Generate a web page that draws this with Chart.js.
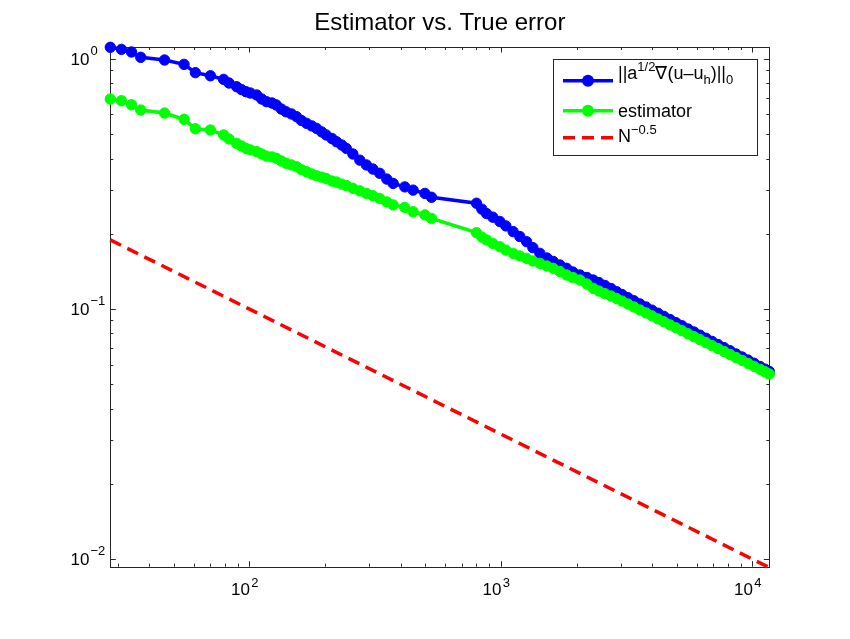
<!DOCTYPE html>
<html><head><meta charset="utf-8">
<script src="https://cdn.jsdelivr.net/npm/chart.js@4.4.0/dist/chart.umd.min.js"></script>
<style>html,body{margin:0;padding:0;background:#fff;}#wrap{width:850px;height:639px;position:relative;}</style>
</head><body><div id="wrap"><canvas id="c"></canvas></div>
<script>
// ---- data ----
const N = [28,31,34,37,46,55,61,70,79,
  83,89,93,97,101,107,112,117,123,128,134,140,147,154,161,169,177,185,194,202,213,222,233,243,258,275,292,310,330,352,373,415,448,499,530,
  800,840,877,929,991,1047,1119,1190,1266,1341,1430,1525,1615,1717,1826,1934,2063,2199,2330,2455,2593,2740,2886,3030,3202,3382,3574,3776,3990,4216,4453,4705,4971,5253,5548,5862,6194,6544,6913,7304,7717,8154,8612,9100,9614,10157,10730,11233,11680];
const errTrue = [1.114,1.093,1.067,1.016,0.991,0.952,0.882,0.857,0.829,
  0.802,0.775,0.755,0.740,0.731,0.718,0.692,0.675,0.667,0.655,0.631,0.615,0.603,0.588,0.568,0.553,0.540,0.528,0.511,0.497,0.481,0.467,0.453,0.439,0.417,0.394,0.377,0.363,0.349,0.331,0.318,0.308,0.299,0.290,0.280,
  0.265,0.251,0.241,0.233,0.224,0.215,0.204,0.195,0.186,0.176,0.167,0.160,0.155,0.150,0.1455,0.1406,0.1368,0.1337,0.1306,0.1276,0.1242,0.1208,0.1173,0.1143,0.1110,0.1079,0.1048,0.1019,0.0990,0.0962,0.0934,0.0908,0.0882,0.0857,0.0832,0.0809,0.0786,0.0764,0.0742,0.0721,0.0701,0.0681,0.0661,0.0643,0.0625,0.0607,0.0589,0.0575,0.0563];
const errEst = [0.692,0.681,0.656,0.625,0.608,0.574,0.526,0.520,0.497,
  0.479,0.460,0.449,0.439,0.433,0.426,0.417,0.409,0.406,0.401,0.391,0.383,0.377,0.371,0.361,0.354,0.347,0.341,0.337,0.333,0.325,0.322,0.316,0.312,0.304,0.297,0.290,0.284,0.277,0.268,0.261,0.255,0.245,0.238,0.2305,
  0.202,0.194,0.189,0.183,0.1775,0.172,0.167,0.163,0.1595,0.1556,0.1523,0.1486,0.1455,0.1413,0.1368,0.1337,0.1306,0.1259,0.1210,0.1180,0.1153,0.1127,0.1102,0.1076,0.1047,0.1019,0.0991,0.0965,0.0939,0.0913,0.0889,0.0864,0.0841,0.0819,0.0796,0.0775,0.0754,0.0734,0.0714,0.0695,0.0676,0.0658,0.0640,0.0623,0.0606,0.0590,0.0574,0.0561,0.0550];
const refN = [28, 11680];
const refVal = [0.189, 0.00925];
const xTickExps = [2, 3, 4];
const yTickExps = [0, -1, -2];
const xLimits = [28, 11680];
const yLimits = [0.00932, 1.117];
const titleText = 'Estimator vs. True error';
const legendRich = [
  [{t:'||a',s:18},{t:'1/2',s:13,dy:-8},{t:'\u2207(u\u2013u',s:18},{t:'h',s:13,dy:5},{t:')||',s:18},{t:'0',s:13,dy:5}],
  [{t:'estimator',s:18}],
  [{t:'N',s:18},{t:'\u22120.5',s:13,dy:-8}]
];
const seriesNames = ['||a1/2\u2207(u\u2013uh)||0', 'estimator', 'N\u22120.5'];
const seriesColors = ['#0000ff', '#00ff00', '#ff0000'];

const FONT = '"Liberation Sans", Arial, Helvetica, sans-serif';

function drawRich(ctx, x, y, segs) {
  let cx = x;
  for (const s of segs) {
    ctx.font = s.s + 'px ' + FONT;
    ctx.fillText(s.t, cx, y + (s.dy || 0));
    cx += ctx.measureText(s.t).width;
  }
}

const matlabAxes = {
  id: 'matlabAxes',
  beforeDatasetsDraw(chart) {
    const {ctx, chartArea: a, scales: {x, y}} = chart;
    ctx.save();
    ctx.strokeStyle = '#262626';
    ctx.lineWidth = 1;
    const ticks = (scale, horiz) => {
      const lo = Math.floor(Math.log10(scale.min)), hi = Math.ceil(Math.log10(scale.max));
      for (let d = lo; d <= hi; d++) for (let m = 1; m <= 9; m++) {
        const v = m * Math.pow(10, d);
        if (v < scale.min * 0.9999 || v > scale.max * 1.0001) continue;
        const p = Math.round(scale.getPixelForValue(v)) + 0.5;
        const L = m === 1 ? 5.5 : 3;
        ctx.beginPath();
        if (horiz) {
          ctx.moveTo(p, a.bottom); ctx.lineTo(p, a.bottom - L);
          ctx.moveTo(p, a.top); ctx.lineTo(p, a.top + L);
        } else {
          ctx.moveTo(a.left, p); ctx.lineTo(a.left + L, p);
          ctx.moveTo(a.right, p); ctx.lineTo(a.right - L, p);
        }
        ctx.stroke();
      }
    };
    ticks(x, true);
    ticks(y, false);
    ctx.strokeRect(Math.round(a.left) + 0.5, Math.round(a.top) + 0.5, Math.round(a.right - a.left), Math.round(a.bottom - a.top));
    ctx.restore();
  },
  afterDraw(chart) {
    const {ctx, chartArea: a, scales: {x, y}} = chart;
    ctx.save();
    ctx.fillStyle = '#000';
    ctx.textBaseline = 'alphabetic';
    // x tick labels
    for (const e of xTickExps) {
      const p = x.getPixelForValue(Math.pow(10, e));
      ctx.font = '17px ' + FONT; ctx.textAlign = 'right';
      ctx.fillText('10', p + 0.5, a.bottom + 28.5);
      ctx.font = '13px ' + FONT; ctx.textAlign = 'left';
      ctx.fillText(String(e), p + 2, a.bottom + 20);
    }
    // y tick labels
    for (const e of yTickExps) {
      const p = y.getPixelForValue(Math.pow(10, e));
      ctx.font = '17px ' + FONT; ctx.textAlign = 'right';
      ctx.fillText('10', 89.5, p + 6);
      ctx.font = '13px ' + FONT; ctx.textAlign = 'left';
      ctx.fillText(e < 0 ? '\u2212' + (-e) : String(e), 90.5, p - 4);
    }
    // title
    ctx.font = '24px ' + FONT; ctx.textAlign = 'center';
    ctx.fillText(titleText, (a.left + a.right) / 2, 30);
    // legend
    const bx = 553.5, by = 59.5, bw = 204, bh = 96;
    ctx.fillStyle = '#fff';
    ctx.fillRect(bx, by, bw, bh);
    ctx.strokeStyle = '#262626'; ctx.lineWidth = 1;
    ctx.strokeRect(bx, by, bw, bh);
    const rowsY = [80.7, 110.7, 137.7];
    const baseY = [79, 117, 142];
    ctx.textAlign = 'left';
    for (let i = 0; i < 3; i++) {
      ctx.strokeStyle = seriesColors[i];
      ctx.lineWidth = 3.5;
      ctx.setLineDash(i === 2 ? [12, 7] : []);
      ctx.beginPath(); ctx.moveTo(563, rowsY[i]); ctx.lineTo(613, rowsY[i]); ctx.stroke();
      ctx.setLineDash([]);
      if (i < 2) {
        ctx.fillStyle = seriesColors[i];
        ctx.beginPath(); ctx.arc(588, rowsY[i], 6, 0, Math.PI * 2); ctx.fill();
      }
      ctx.fillStyle = '#000';
      drawRich(ctx, 618, baseY[i], legendRich[i]);
    }
    ctx.restore();
  }
};

const pts = (xs, ys) => xs.map((v, i) => ({x: v, y: ys[i]}));

new Chart(document.getElementById('c'), {
  type: 'line',
  data: {
    datasets: [
      {label: seriesNames[0], data: pts(N, errTrue), borderColor: seriesColors[0], backgroundColor: seriesColors[0],
       borderWidth: 3.5, pointRadius: 5.2, pointBorderWidth: 1, pointBackgroundColor: seriesColors[0], pointBorderColor: seriesColors[0],
       tension: 0, clip: false, order: 2},
      {label: seriesNames[1], data: pts(N, errEst), borderColor: seriesColors[1], backgroundColor: seriesColors[1],
       borderWidth: 3.5, pointRadius: 5.2, pointBorderWidth: 1, pointBackgroundColor: seriesColors[1], pointBorderColor: seriesColors[1],
       tension: 0, clip: false, order: 1},
      {label: seriesNames[2], data: pts(refN, refVal), borderColor: seriesColors[2], backgroundColor: seriesColors[2],
       borderWidth: 3.5, borderDash: [12, 7], pointRadius: 0, tension: 0, clip: false, order: 0}
    ]
  },
  options: {
    responsive: true, maintainAspectRatio: false, animation: false,
    layout: {padding: {top: 47, right: 80.7, left: 0, bottom: 0}},
    plugins: {legend: {display: false}, tooltip: {enabled: false}, title: {display: false}},
    events: [],
    scales: {
      x: {type: 'logarithmic', min: xLimits[0], max: xLimits[1],
          ticks: {display: false}, grid: {display: false}, border: {display: false},
          afterFit: s => { s.height = 639 - 566.7; }},
      y: {type: 'logarithmic', min: yLimits[0], max: yLimits[1],
          ticks: {display: false}, grid: {display: false}, border: {display: false},
          afterFit: s => { s.width = 110.3; }}
    }
  },
  plugins: [matlabAxes]
});
</script>
</body></html>
